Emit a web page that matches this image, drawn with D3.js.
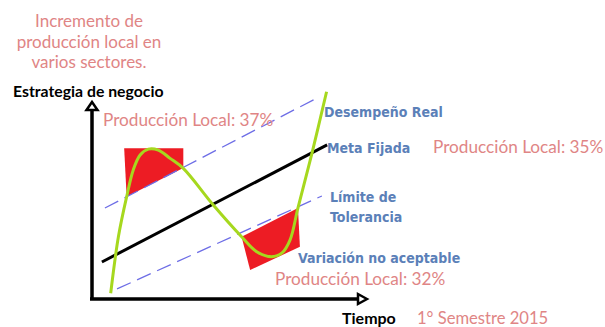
<!DOCTYPE html>
<html>
<head>
<meta charset="utf-8">
<script src="https://cdn.jsdelivr.net/npm/d3@7"></script>
<style>
  body { margin: 0; background: #fff; }
  svg { display: block; }
</style>
</head>
<body>
<div id="chart"></div>
<script>
// time (x) vs estrategia (y), both on a 0..100 scale
const metaFijada = [[3.6, 18.8], [85.5, 78.2]];
const limiteSuperior = [[4.7, 46.2], [81.1, 101.5]];
const limiteInferior = [[9.1, 5.1], [83.6, 52.3]];

const desempenoReal = [
  [6.8, 2.9], [9.6, 31.6], [12.6, 51.9], [15.0, 65.5], [17.5, 73.1],
  [20.5, 76.1], [24.1, 75.6], [28.4, 71.4], [33.2, 66.3], [44.1, 47.7],
  [54.4, 31.6], [59.9, 24.0], [65.3, 21.5], [69.1, 23.4], [72.0, 29.9],
  [74.9, 46.2], [80.0, 74.1], [85.3, 105.2]
];

// zones of unacceptable variation
const zonaAlta = [[11.7, 76.5], [33.2, 76.5], [33.2, 66.5], [12.6, 51.9]];
const zonaBaja = [[54.4, 31.6], [74.9, 46.2], [75.6, 26.5], [57.5, 14.7]];

const titulo = ["Incremento de", "producción local en", "varios sectores."];
const ejes = ["Estrategia de negocio", "Tiempo"];
const seriesLabels = ["Desempeño Real", "Meta Fijada", "Límite de", "Tolerancia", "Variación no aceptable"];
const produccion = ["Producción Local: 37%", "Producción Local: 35%", "Producción Local: 32%"];
const periodo = "1° Semestre 2015";

const W = 605, H = 327;
const pink = "#e08585", blue = "#5b80b8";

const svg = d3.select("#chart").append("svg")
  .attr("width", W).attr("height", H);

const x = d3.scaleLinear().domain([0, 100]).range([92, 367]);
const y = d3.scaleLinear().domain([0, 100]).range([299, 102]);

const line = d3.line().x(d => x(d[0])).y(d => y(d[1]));

// red zones
svg.selectAll(".zona")
  .data([zonaAlta, zonaBaja])
  .enter().append("path")
  .attr("class", "zona")
  .attr("d", d => line(d) + "Z")
  .style("fill", "#ed1c24");

// tolerance limits
svg.selectAll(".limite")
  .data([limiteSuperior, limiteInferior])
  .enter().append("path")
  .attr("class", "limite")
  .attr("d", line)
  .style("fill", "none")
  .style("stroke", "#6d6de6")
  .style("stroke-width", 1.3)
  .style("stroke-dasharray", "15 7");

// target
svg.append("path")
  .attr("d", line(metaFijada))
  .style("fill", "none")
  .style("stroke", "#000")
  .style("stroke-width", 3);

// actual performance
svg.append("path")
  .attr("d", line.curve(d3.curveCatmullRom.alpha(0.5))(desempenoReal))
  .style("fill", "none")
  .style("stroke", "#a6d81e")
  .style("stroke-width", 3);
line.curve(d3.curveLinear);

// axes with open arrow heads
const x0 = x(0), y0 = y(0), xEnd = x(100), yEnd = y(100);
svg.append("path")
  .attr("d", `M${x0},${y0 + 1.5}V${yEnd + 8}M${x0 - 2},${y0}H${xEnd - 9}`)
  .style("stroke", "#000").style("stroke-width", 3.5).style("fill", "none");
svg.append("path")
  .attr("d", `M${x0},${yEnd}L${x0 + 5.5},${yEnd + 8}L${x0 - 5.5},${yEnd + 8}Z`)
  .style("stroke", "#000").style("stroke-width", 2.5).style("fill", "#fff");
svg.append("path")
  .attr("d", `M${xEnd},${y0}L${xEnd - 9},${y0 - 5}L${xEnd - 9},${y0 + 5}Z`)
  .style("stroke", "#000").style("stroke-width", 2.5).style("fill", "#fff");

// title
svg.append("text")
  .attr("x", 89).attr("y", 27)
  .style("font-family", "Lato, sans-serif")
  .style("font-size", "17px")
  .style("fill", pink)
  .style("text-anchor", "middle")
  .selectAll("tspan")
  .data(titulo)
  .enter().append("tspan")
  .attr("x", 89)
  .attr("dy", (d, i) => i === 0 ? 0 : 20.5)
  .text(d => d);

// axis titles
svg.append("text")
  .attr("x", 13).attr("y", 97)
  .text(ejes[0])
  .style("font-family", "Lato, sans-serif")
  .style("font-weight", "bold")
  .style("font-size", "15.8px")
  .style("fill", "#000");

svg.append("text")
  .attr("x", 342).attr("y", 324)
  .text(ejes[1])
  .style("font-family", "Lato, sans-serif")
  .style("font-weight", "bold")
  .style("font-size", "16px")
  .style("fill", "#000");

svg.append("text")
  .attr("x", 417).attr("y", 324)
  .text(periodo)
  .style("font-family", "Lato, sans-serif")
  .style("font-size", "16.6px")
  .style("fill", pink);

// series labels
const labelPos = [[324, 117], [327, 153], [330, 202], [330, 222], [298, 263]];
svg.selectAll(".serie")
  .data(seriesLabels)
  .enter().append("text")
  .attr("class", "serie")
  .attr("x", (d, i) => labelPos[i][0])
  .attr("y", (d, i) => labelPos[i][1])
  .text(d => d)
  .style("font-family", "'DejaVu Sans Condensed', 'DejaVu Sans', sans-serif")
  .style("font-weight", "bold")
  .style("font-size", "14px")
  .style("fill", blue);

// local production notes
const prodPos = [[103, 126], [433, 153], [275, 285]];
svg.selectAll(".prod")
  .data(produccion)
  .enter().append("text")
  .attr("class", "prod")
  .attr("x", (d, i) => prodPos[i][0])
  .attr("y", (d, i) => prodPos[i][1])
  .text(d => d)
  .style("font-family", "Lato, sans-serif")
  .style("font-size", "17.2px")
  .style("fill", pink);
</script>
</body>
</html>
